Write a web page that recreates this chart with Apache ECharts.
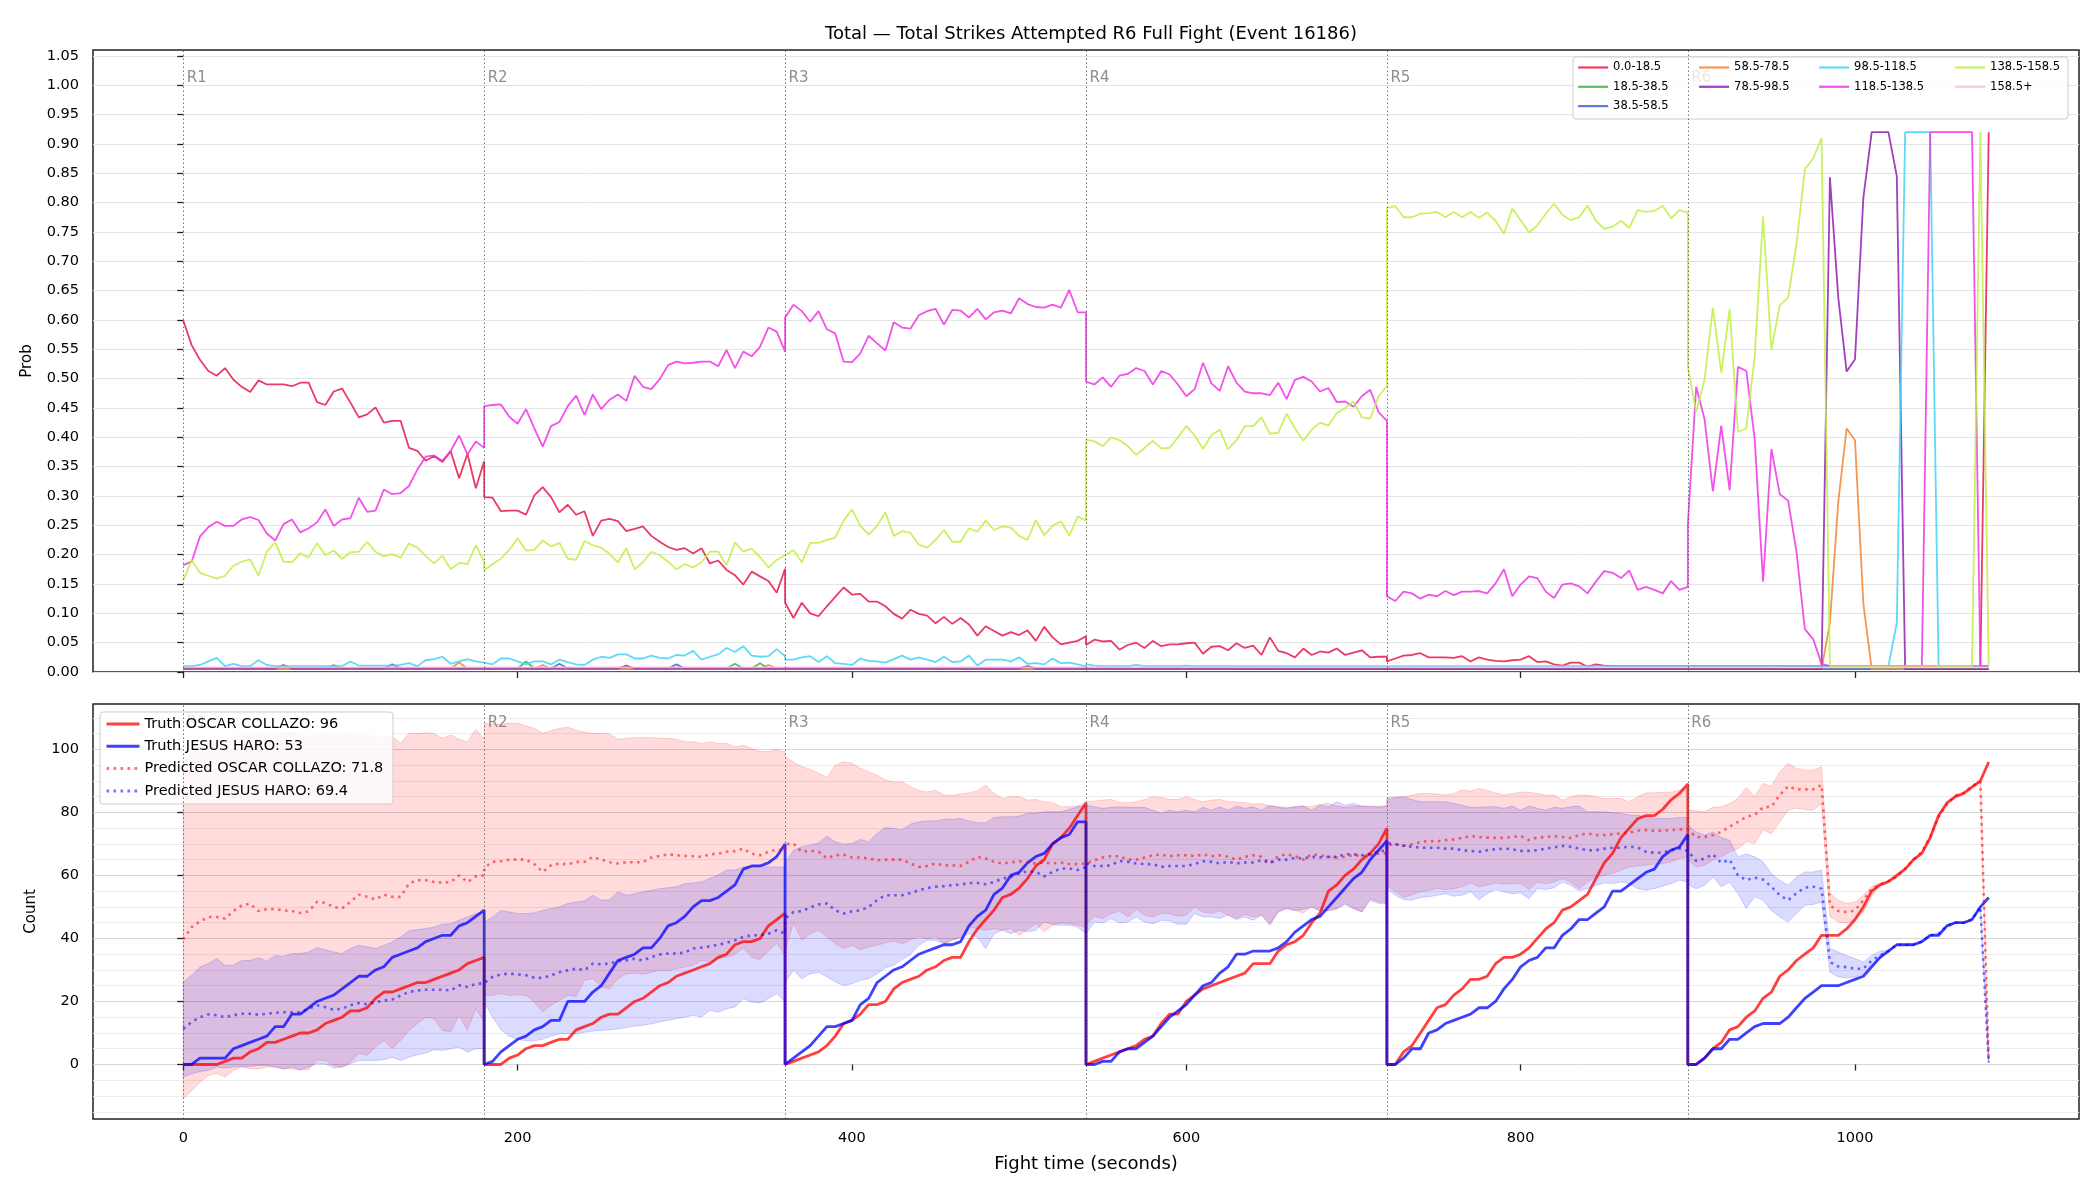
<!doctype html>
<html lang="en">
<head>
<meta charset="UTF-8">
<title>Total Strikes Attempted R6 Full Fight (Event 16186)</title>
<script src="https://cdn.jsdelivr.net/npm/echarts@6/dist/echarts.min.js"></script>
<style>
  html, body { margin: 0; padding: 0; background: #fff; }
  #chart { width: 2100px; height: 1200px; }
</style>
</head>
<body>
<div id="chart"></div>
<script>
// ---- axes / ticks ----
var roundStarts = [0, 180, 360, 540, 720, 900];
var roundNames = ['R1', 'R2', 'R3', 'R4', 'R5', 'R6'];
var stepSec = 5;
var timeTicks = [0, 200, 400, 600, 800, 1000];
var probTicks = [0, 0.05, 0.1, 0.15, 0.2, 0.25, 0.3, 0.35, 0.4, 0.45, 0.5, 0.55, 0.6, 0.65, 0.7, 0.75, 0.8, 0.85, 0.9, 0.95, 1.0, 1.05];
var countTicks = [0, 20, 40, 60, 80, 100];
var countMinorTicks = [-15, -10, -5, 5, 10, 15, 25, 30, 35, 45, 50, 55, 65, 70, 75, 85, 90, 95, 105, 110];

// ---- top panel: bin probabilities, one row per round (t = round start + 5s * k) ----
var pBin0 = [ // 0.0-18.5
  [0.599,0.557,0.532,0.513,0.505,0.518,0.498,0.486,0.477,0.497,0.490,0.490,0.490,0.487,0.493,0.493,0.460,0.455,0.478,0.483,0.459,0.434,0.439,0.451,0.425,0.428,0.428,0.382,0.377,0.360,0.368,0.358,0.376,0.330,0.372,0.313,0.359],
  [0.298,0.297,0.274,0.275,0.275,0.268,0.301,0.315,0.298,0.272,0.285,0.268,0.274,0.232,0.258,0.261,0.257,0.240,0.244,0.248,0.232,0.222,0.213,0.208,0.211,0.202,0.211,0.185,0.190,0.174,0.165,0.149,0.171,0.163,0.155,0.135,0.176],
  [0.118,0.092,0.118,0.100,0.095,0.112,0.128,0.144,0.132,0.133,0.120,0.120,0.112,0.099,0.091,0.106,0.099,0.096,0.083,0.094,0.082,0.092,0.081,0.062,0.078,0.070,0.062,0.068,0.063,0.071,0.053,0.077,0.059,0.047,0.050,0.053,0.061],
  [0.046,0.055,0.052,0.053,0.038,0.046,0.050,0.041,0.053,0.044,0.047,0.047,0.049,0.050,0.031,0.043,0.044,0.037,0.049,0.041,0.045,0.029,0.059,0.036,0.032,0.025,0.040,0.029,0.035,0.033,0.040,0.029,0.033,0.037,0.025,0.026,0.026],
  [0.018,0.023,0.028,0.029,0.032,0.025,0.025,0.025,0.024,0.027,0.018,0.025,0.021,0.019,0.018,0.020,0.021,0.027,0.017,0.018,0.013,0.011,0.016,0.016,0.009,0.013,0.011,0.010,0.010,0.010,0.010,0.010,0.010,0.010,0.010,0.010,0.010],
  [0.010,0.010,0.010,0.010,0.010,0.010,0.010,0.010,0.010,0.010,0.010,0.010,0.010,0.010,0.010,0.010,0.010,0.010,0.010,0.010,0.010,0.010,0.010,0.010,0.010,0.010,0.010,0.010,0.010,0.010,0.010,0.010,0.010,0.010,0.010,0.010,0.920]
];
var pBin6 = [ // 118.5-138.5
  [0.182,0.188,0.231,0.247,0.256,0.249,0.249,0.260,0.264,0.259,0.236,0.224,0.252,0.260,0.238,0.245,0.255,0.277,0.249,0.260,0.262,0.297,0.273,0.275,0.311,0.303,0.305,0.317,0.345,0.367,0.369,0.360,0.377,0.403,0.371,0.393,0.382],
  [0.453,0.455,0.456,0.435,0.423,0.448,0.415,0.384,0.419,0.426,0.453,0.471,0.438,0.473,0.448,0.464,0.473,0.462,0.505,0.486,0.482,0.499,0.523,0.529,0.526,0.527,0.529,0.529,0.521,0.549,0.518,0.546,0.538,0.554,0.587,0.580,0.546],
  [0.604,0.626,0.615,0.597,0.615,0.584,0.577,0.529,0.528,0.543,0.573,0.560,0.548,0.596,0.587,0.585,0.608,0.615,0.619,0.592,0.617,0.616,0.604,0.619,0.601,0.613,0.616,0.611,0.637,0.627,0.622,0.621,0.626,0.621,0.651,0.613,0.613],
  [0.495,0.490,0.502,0.486,0.505,0.508,0.518,0.513,0.490,0.513,0.507,0.490,0.470,0.482,0.527,0.492,0.479,0.521,0.493,0.478,0.475,0.475,0.472,0.493,0.465,0.498,0.503,0.495,0.478,0.484,0.460,0.461,0.452,0.470,0.481,0.443,0.428],
  [0.129,0.121,0.137,0.134,0.125,0.132,0.129,0.138,0.131,0.137,0.137,0.138,0.134,0.151,0.175,0.129,0.149,0.163,0.160,0.137,0.126,0.149,0.151,0.146,0.134,0.154,0.172,0.169,0.160,0.173,0.140,0.145,0.140,0.134,0.155,0.140,0.145],
  [0.250,0.486,0.431,0.308,0.420,0.310,0.520,0.513,0.397,0.154,0.380,0.303,0.292,0.205,0.073,0.056,0.014,0.010,0.010,0.010,0.010,0.010,0.010,0.010,0.010,0.010,0.010,0.010,0.010,0.920,0.920,0.920,0.920,0.920,0.920,0.010,0.010]
];
var pBin7 = [ // 138.5-158.5
  [0.156,0.191,0.169,0.164,0.159,0.164,0.181,0.188,0.192,0.164,0.205,0.221,0.188,0.187,0.202,0.195,0.220,0.199,0.207,0.193,0.204,0.205,0.222,0.205,0.197,0.201,0.195,0.219,0.212,0.198,0.185,0.198,0.175,0.186,0.184,0.216,0.188],
  [0.173,0.184,0.193,0.208,0.228,0.207,0.208,0.224,0.214,0.220,0.193,0.191,0.223,0.216,0.212,0.201,0.187,0.211,0.175,0.187,0.205,0.199,0.188,0.175,0.184,0.178,0.187,0.205,0.205,0.182,0.221,0.205,0.210,0.196,0.178,0.191,0.199],
  [0.199,0.208,0.187,0.220,0.220,0.225,0.229,0.258,0.277,0.249,0.234,0.249,0.272,0.232,0.240,0.237,0.217,0.212,0.225,0.242,0.222,0.222,0.245,0.239,0.258,0.242,0.248,0.246,0.232,0.225,0.259,0.233,0.249,0.257,0.232,0.265,0.258],
  [0.396,0.393,0.385,0.400,0.395,0.385,0.370,0.382,0.394,0.381,0.382,0.400,0.419,0.403,0.380,0.404,0.413,0.380,0.395,0.419,0.419,0.434,0.406,0.408,0.440,0.415,0.394,0.413,0.425,0.420,0.441,0.450,0.461,0.434,0.432,0.470,0.487],
  [0.791,0.794,0.775,0.775,0.781,0.782,0.784,0.775,0.784,0.775,0.784,0.774,0.783,0.769,0.747,0.790,0.770,0.749,0.761,0.781,0.798,0.779,0.770,0.775,0.795,0.769,0.755,0.759,0.769,0.757,0.787,0.784,0.786,0.794,0.773,0.787,0.783],
  [0.520,0.443,0.498,0.621,0.510,0.619,0.409,0.415,0.537,0.776,0.549,0.625,0.638,0.729,0.857,0.875,0.910,0.010,0.010,0.010,0.010,0.010,0.010,0.010,0.010,0.010,0.010,0.010,0.010,0.010,0.010,0.010,0.010,0.010,0.010,0.920,0.010]
];
var pBin5 = [ // 98.5-118.5
  [0.010,0.010,0.012,0.018,0.024,0.010,0.014,0.010,0.010,0.020,0.012,0.010,0.010,0.010,0.010,0.010,0.010,0.010,0.010,0.010,0.018,0.011,0.011,0.011,0.011,0.011,0.012,0.015,0.010,0.020,0.022,0.026,0.014,0.018,0.022,0.018,0.016],
  [0.015,0.013,0.023,0.023,0.018,0.013,0.018,0.018,0.013,0.021,0.017,0.013,0.012,0.021,0.026,0.024,0.030,0.030,0.023,0.023,0.028,0.024,0.023,0.029,0.028,0.036,0.021,0.026,0.030,0.041,0.034,0.044,0.028,0.026,0.027,0.039,0.027],
  [0.021,0.021,0.025,0.027,0.017,0.027,0.015,0.014,0.012,0.023,0.019,0.018,0.016,0.022,0.028,0.021,0.025,0.021,0.017,0.026,0.017,0.018,0.028,0.011,0.021,0.021,0.021,0.018,0.025,0.014,0.015,0.013,0.023,0.015,0.016,0.013,0.009],
  [0.013,0.011,0.010,0.010,0.010,0.010,0.012,0.010,0.010,0.010,0.010,0.010,0.011,0.010,0.010,0.010,0.010,0.010,0.010,0.010,0.010,0.010,0.010,0.010,0.010,0.010,0.010,0.010,0.010,0.010,0.010,0.010,0.010,0.010,0.010,0.010,0.010],
  [0.010,0.010,0.010,0.010,0.010,0.010,0.010,0.010,0.010,0.010,0.010,0.010,0.010,0.010,0.010,0.010,0.010,0.010,0.010,0.010,0.010,0.010,0.010,0.010,0.010,0.010,0.010,0.010,0.010,0.010,0.010,0.010,0.010,0.010,0.010,0.010,0.010],
  [0.010,0.010,0.010,0.010,0.010,0.010,0.010,0.010,0.010,0.010,0.010,0.010,0.010,0.010,0.010,0.010,0.010,0.010,0.010,0.010,0.010,0.010,0.010,0.010,0.010,0.084,0.920,0.920,0.920,0.920,0.010,0.010,0.010,0.010,0.010,0.010,0.010]
];
// near-zero bins, read as [time, prob]
var pBin1 = [[0,0.006],[85,0.006],[90,0.012],[95,0.006],[200,0.006],[205,0.018],[210,0.006],[325,0.006],[330,0.014],[335,0.006],[340,0.006],[345,0.015],[350,0.006],[1080,0.005]];
var pBin2 = [[0,0.006],[120,0.006],[125,0.013],[130,0.006],[220,0.006],[225,0.014],[230,0.006],[290,0.006],[295,0.013],[300,0.006],[1080,0.005]];
var pBin3 = [[0,0.006],[160,0.006],[165,0.016],[170,0.006],[210,0.006],[215,0.012],[220,0.006],[345,0.006],[350,0.012],[355,0.006],[980,0.005],[985,0.084],[990,0.29],[995,0.415],[1000,0.395],[1005,0.117],[1010,0.005],[1080,0.005]];
var pBin4 = [[0,0.006],[55,0.006],[60,0.012],[65,0.006],[260,0.006],[265,0.011],[270,0.006],[500,0.006],[505,0.010],[510,0.006],[980,0.005],[985,0.843],[990,0.638],[995,0.512],[1000,0.533],[1005,0.808],[1010,0.92],[1015,0.92],[1020,0.92],[1025,0.845],[1030,0.005],[1080,0.005]];
var pBin8 = [[0,0.008],[1080,0.008]];

// ---- bottom panel: cumulative counts per round ----
var truthRed = [
  [0,0,0,0,0,1,2,2,4,5,7,7,8,9,10,10,11,13,14,15,17,17,18,21,23,23,24,25,26,26,27,28,29,30,32,33,34],
  [0,0,0,2,3,5,6,6,7,8,8,11,12,13,15,16,16,18,20,21,23,25,26,28,29,30,31,32,34,35,38,39,39,40,44,46,48],
  [0,1,2,3,4,6,9,13,14,16,19,19,20,24,26,27,28,30,31,33,34,34,39,43,46,49,53,54,56,59,63,65,70,72,75,79,83],
  [0,1,2,3,4,5,6,8,9,13,16,16,20,22,24,25,26,27,28,29,32,32,32,36,38,39,41,45,48,55,57,60,62,65,67,70,75],
  [0,0,4,6,10,14,18,19,22,24,27,27,28,32,34,34,35,37,40,43,45,49,50,52,54,59,64,67,72,75,78,79,79,81,84,86,89],
  [0,0,2,5,7,11,12,15,17,21,23,28,30,33,35,37,41,41,41,43,46,50,55,57,58,60,62,65,67,72,79,83,85,86,88,90,96]
];
var truthBlue = [
  [0,0,2,2,2,2,5,6,7,8,9,12,12,16,16,18,20,21,22,24,26,28,28,30,31,34,35,36,37,39,40,41,41,44,45,47,49],
  [0,1,4,6,8,9,11,12,14,14,20,20,20,23,25,29,33,34,35,37,37,40,44,45,47,50,52,52,53,55,57,62,63,63,64,66,70],
  [0,2,4,6,9,12,12,13,14,19,21,26,28,30,31,33,35,36,37,38,38,39,44,47,49,54,56,60,61,64,66,67,70,72,73,77,77],
  [0,0,1,1,4,5,5,7,9,12,15,17,19,22,25,26,29,31,35,35,36,36,36,37,39,42,44,46,47,50,53,56,59,61,65,68,71],
  [0,0,2,5,5,10,11,13,14,15,16,18,18,20,24,27,31,33,34,37,37,41,43,46,46,48,50,55,55,57,59,61,62,66,68,69,73],
  [0,0,2,5,5,8,8,10,12,13,13,13,15,18,21,23,25,25,25,26,27,28,31,34,36,38,38,38,39,41,41,44,45,45,46,50,53]
];
var predRed = [
  [39.7,43.6,45.4,46.8,46.8,46.3,48.7,50.5,51,48.7,49.3,49.3,48.9,48.7,48.1,48.6,51.6,51.3,50,49.5,51.6,53.9,53.2,52.4,53.9,53.2,53.2,57.4,58.5,58.5,57.9,57.7,57.9,60,57.9,59.7,60],
  [62.4,64.3,64.5,65,65,65,63.6,61.1,63.2,63.8,63.5,64.3,64.3,65.9,65,64.2,63.8,64.2,64.2,64.2,65.7,66.2,66.7,66.4,66.2,66.1,65.9,66.7,66.9,67.5,67.7,68.5,66.9,66.4,67.5,68.2,68],
  [69.9,70.1,67.5,67.8,67.5,65.4,66.4,66.6,65.7,65.7,65.4,64.8,65,65,65,63.8,62.7,63,63.8,63.2,63.2,63,64.3,65.9,65.4,64.3,63.8,64.1,64.5,64.1,63.8,64.1,63.8,64.1,63.6,63.6,63.8],
  [64.3,64.8,65.7,66.1,66.1,65,65,65.7,66.4,66.6,66.1,66.4,66.4,66.1,66.7,66.1,66.4,65.9,65,65.9,66.4,65.9,63.8,66.1,66.7,66.1,65,66.7,66.4,65.9,65.7,65.9,66.4,66.1,66.4,66.9,67],
  [69.6,69.9,69.4,69.9,70.6,70.9,70.8,71.2,71.4,71.9,72.5,72.2,72,71.9,71.9,72.2,72.5,71.2,72,72.2,72.5,72.2,71.9,72.8,73.3,72.8,72.8,73.1,73.3,73.6,74.2,74.4,74.2,74.2,74.4,74.6,74.6],
  [74.6,72.2,72.2,72.8,73.8,75.5,77,78.6,79.2,81.6,81.8,85.5,88.3,87.3,87.3,87.3,88.7,50.5,48.7,48.4,48.9,52.1,55.8,57.1,58.2,59.5,62.2,65,67.5,72.2,78.6,82.6,85.3,86.2,88.3,89.7,0.7]
];
var predBlue = [
  [11.3,13.5,15,15.9,15.6,15,15.6,16.1,16.1,15.8,16.1,16.4,16.6,16.6,16.6,17.7,18.8,18.2,17.4,17.7,18.8,19.5,19.1,19.8,20.3,20.6,21.9,23,23.5,23.7,23.7,23.7,23.5,25.1,24.6,25.6,25.8],
  [26.2,27.8,28.6,28.8,28.6,28.3,27.5,27.5,28.3,29.3,29.9,30.4,29.9,32,31.8,32,32.8,33,33.6,33,34.1,34.9,35.2,35.2,35.5,36.8,37.1,37.5,38,38.6,39.4,40.5,41,41,41.5,42.6,41.5],
  [46.3,48.4,48.7,49.8,50.8,51.1,48.9,47.9,48.6,48.9,50,52.1,53.7,53.7,53.7,54.4,55.3,56,56.4,56.6,56.9,57.1,57.6,57.6,57.2,57.9,59,59.5,60.6,61.3,61.1,59.7,61.1,62.2,62.2,61.7,62.7],
  [63.8,63,63,63.2,64.6,64.3,63.8,63.6,63.6,62.7,63,63,63,63.6,64.5,64.3,63.8,64.3,63.8,64.1,64.1,64.8,64,65,65,65.6,65.4,65.9,65.7,65.9,65.9,66.7,66.7,66.4,66.9,67.5,68],
  [70.3,69.9,69.4,69.1,68.8,68.8,68.8,68.5,68.5,68,67.8,67.5,68,68.3,68.5,68.3,67.8,67.8,68,68.5,68.9,69.4,69.1,68.5,68,68,68.5,68.8,68.8,69.1,68.9,67.5,67.2,67.2,68,68.5,67.8],
  [67.8,64.6,65.4,66.7,64,65,60,58.5,59.3,58.7,56.4,53.7,52.1,54.4,56.1,56.4,55.8,32.5,31.1,30.9,30.4,30.4,33,34.6,36,38,38,38,39,41,41.5,44,45,45,46,50,0.7]
];
var redHi = [
  [96,99,101,102,103,103,104,104.5,104,105,104.5,104,105,105.5,104.5,104,104.5,105,104,104.5,105,104,104.5,103.5,104,104,102,105,105,105.3,105,103.5,104.6,103.2,102.4,106.4,103.2],
  [108.3,108,108,108.3,108.3,107.4,106.7,105.1,105.9,106.7,107,106.1,105.4,105.1,105.1,104.9,103.2,103.5,103.8,103.8,103.8,103.5,103.5,103.2,102.4,102.4,101.9,102.4,101.9,101.9,100.8,101.3,100.3,99.3,99.3,99.8,99.3],
  [97.8,96,94.5,93.7,92.5,91.1,95,96.1,95.6,94,92.9,91.8,90.3,89.7,89.7,88.1,86.9,86.5,87,85.5,85.5,85.8,86.2,86.9,88.7,86,84.4,85,85,83.9,84.1,83.4,83.1,81.8,81.8,82,83.4],
  [83.4,83.6,83.9,84.1,83.1,83.1,83.4,84.1,85,84.7,84.1,84.1,85,84.1,83.4,83.9,84.1,83.4,83.4,83.1,82.6,82.8,82,81.8,81.6,81.8,82,81.8,82.6,82.8,82,81.6,82,82,81.8,82,82],
  [83.9,84.7,85,85.5,86,86,85.8,85.5,86,87.1,86.7,87.6,86.9,86.2,85.5,86,86.4,86.4,86,85.5,85.5,83.9,85,85.5,85.5,85,84.4,84.4,84.4,83.4,85,86.2,86.2,86.4,86.4,87.1,87.6],
  [80.7,80.5,80.2,81.6,81.8,82.8,84.4,87.9,85,89.2,88.3,92.9,95.6,94,93.4,93.4,94.5,54.4,52.1,51.1,51.6,53.7,56.4,57.6,58.4,59.7,62.4,65.2,67.7,72.4,78.8,82.8,85.5,86.4,88.5,89.9,0.9]
];
var redLo = [
  [-10.9,-8.3,-5.6,-3.5,-2.8,-4,-1.9,-0.8,-1.4,-1.4,-0.8,-0.8,-1.4,-1.4,-1.7,-1.7,1.5,1.3,-0.3,-0.8,0.7,3.4,2.9,5.5,7.6,5,7.6,10.8,12.9,15,14.5,10.8,10.3,15.6,10.8,17.7,13.5],
  [21.9,21.9,22.5,21.9,22.1,21.9,19.8,16.6,18.8,20.3,21.9,21.6,26.7,27.2,24.6,24,27.2,28.8,29,28.6,29.3,29.9,29.7,30.4,30.9,31.5,33,32.5,33.6,34,35,37,34,33.3,36,38.5,34.6],
  [36,44.9,39.4,41.5,42.6,40.5,38.3,36.8,37.8,36.4,37.3,37.8,38.6,39.2,38.3,39.6,40.5,39.9,40.5,38.3,39.4,40.3,43.6,43.1,42.6,43.1,42.6,43.1,41,42.8,44.7,42.1,44.2,44.9,44.7,44.2,43.6],
  [44.5,47,46.3,47.9,48.7,46.8,49.2,47.4,46.8,47.9,47.9,47,47.4,50,48.4,47.9,48.7,47.4,46.3,47.7,46.8,47.4,44.7,48.4,49.5,48.9,48.1,50,48.7,48.7,49.2,51.3,49.5,48.4,52.6,51.6,51.6],
  [56.9,54.8,53,53.9,54.8,55.3,55.8,55.5,55.8,56.4,57.6,56.4,56.9,57.6,57.2,57.4,57.4,55.5,57.9,57.4,57.9,59,57.9,55.8,57.9,59.5,60.1,60.6,61.7,62.7,63,63.2,63.6,63.8,64.3,65.4,65.9],
  [65,62.7,63.2,64.8,65.9,67.5,68.5,70.7,70.2,74.4,73.3,77,80.7,81.3,80.9,80.7,82.8,47,45.2,44.9,45.8,48.4,53.2,56.9,58,59.3,62,64.8,67.3,72,78.4,82.4,85.1,86,88.1,89.5,0.5]
];
var blueHi = [
  [26.2,28.3,30.9,32,33.6,31.5,31.5,33,33,33.9,32.8,34.6,34.3,35.2,35.2,35.7,37.1,36.4,35.7,35.2,36.8,37.8,37.3,36.8,37.8,38.9,40.5,42.4,42.8,43.1,43.6,44.5,44.7,45.8,46.8,47.9,48.4],
  [45.2,46.8,48.9,48.4,47.9,47.9,48.1,48.9,49.5,50,51.1,51.6,51.9,53.7,52.1,52.3,54.8,53.7,54.2,54.8,55.3,55.8,56.1,56.4,57.4,57.6,58,59,60.1,61.7,61.7,62.7,62.7,62.9,62.7,62.7,62.7],
  [64,68,69.1,69.6,70.3,72.5,70.7,69.9,70.1,71.4,70.7,73.3,75.2,74.9,74.4,76.3,77,77.3,77.3,77.8,77.8,78.1,77.3,76.7,76.7,78.4,78.6,78.6,78.8,79.7,79.7,80.2,80.2,80.2,80.9,81.8,82.3],
  [82.3,81.8,81.3,81.6,81.8,81.6,81.6,81.6,80.7,79.7,80.7,80.2,80.7,80.2,81.6,80.7,81.8,80.7,82,81.3,81.8,80.7,82.3,81.6,81.3,81.8,82,80.7,82.3,81.8,83.4,82.3,82.8,82,82,81.6,82],
  [84.7,84.9,84.9,84.1,83.4,83.4,83.4,83.4,82.8,82.3,81.6,81.6,81.8,81.8,81.3,82,80.7,82,81.3,80.7,81.6,81.3,81.8,82,80.2,80.2,80.2,79.9,79.7,79.1,79.1,78.6,78.1,78.1,78.1,78.4,78.4],
  [76,73.8,72.8,73.8,72,71.2,65.9,66.9,65.9,64.3,60.6,58.5,56.9,59.5,61.1,61.1,61.7,36.8,35.7,34.6,33.6,32.5,34.6,36,36.2,38.2,38.2,38.2,39.2,41.2,41.7,44.2,45.2,45.2,46.2,50.2,0.9]
];
var blueLo = [
  [-4,-3,-2.2,-1.9,-0.8,-1.1,-0.8,-0.6,-0.6,-0.3,-0.3,-0.8,-1.4,-0.8,-1.7,-0.8,0.4,0.2,-1.1,-0.8,0.2,1.3,1.3,1.3,1.5,2.3,1.3,2.3,3.1,3.6,4.7,4.4,5,5.5,3.9,5,5],
  [19.8,15,11,9,8,7.5,7.5,8,9,9.7,9.7,9.7,10.2,10.6,10.8,11,11.3,11.7,12.2,12.4,12.9,13.5,14,14.5,15,15.6,15,17.2,16.6,17.7,18.2,20.9,19.8,19.5,20.9,22.5,19.8],
  [26,29.9,27.2,28.8,29.3,27.8,26.2,25.1,25.6,26.7,27.2,28.8,30.6,31.5,33.3,34.9,37.8,39.4,39.4,38.3,39.6,40.3,41.5,40.3,36.8,41.5,42.6,41.5,42.6,42.1,42.6,45.2,44.5,44.2,44.2,43.6,41.5],
  [41.5,45.2,44.9,46.3,44.9,45.2,46.8,45.2,44.7,45.8,45.6,44.5,44.5,47.9,46.8,46.8,46.3,47.4,46,46.8,45.8,47.4,44.2,48.4,49.5,48.9,49.2,50,48.7,48.9,49.5,50.8,49.5,48.4,52.1,51.1,51.1],
  [55.8,53.7,52.3,52.1,53,53.2,53.7,54.2,53.4,53.7,54.8,52.3,54.2,55.5,54.8,54.2,54.4,52.6,55.8,55.5,56.1,57.9,56.9,55.1,55.8,56.9,57.6,57.4,57.9,57.4,55.8,55.3,55.8,56.6,57.4,58.5,57.9],
  [57,55.8,56.9,59.5,56.4,57.9,54.2,49.5,53.2,52.1,48.9,46.8,45.2,47.9,50.5,50.8,51.6,29.3,27.8,27.5,27.8,28.8,31.5,33.6,35.8,37.8,37.8,37.8,38.8,40.8,41.3,43.8,44.8,44.8,45.8,49.8,0.5]
];

// rows of per-round samples -> [time, value] points
function toPoints(rounds) {
  var out = [];
  rounds.forEach(function (vals, r) {
    vals.forEach(function (v, k) { out.push([roundStarts[r] + k * stepSec, v]); });
  });
  return out;
}

var chart = echarts.init(document.getElementById('chart'));

function probLine(name, data, color, extra) {
  return Object.assign({
    name: name, type: 'line', xAxisIndex: 0, yAxisIndex: 0, data: data,
    symbol: 'none', silent: true,
    lineStyle: { width: 1.8, color: color }, itemStyle: { color: color }
  }, extra || {});
}
function band(hi, lo, fill, stroke) {
  var hiPts = toPoints(hi), loPts = toPoints(lo).reverse();
  return {
    type: 'custom', xAxisIndex: 1, yAxisIndex: 1, silent: true, data: [[0, 0]],
    renderItem: function (params, api) {
      var pts = hiPts.concat(loPts).map(function (p) { return api.coord(p); });
      return { type: 'polygon', shape: { points: pts }, style: { fill: fill, stroke: stroke, lineWidth: 1 } };
    }
  };
}
function roundMarks() {
  return {
    silent: true, symbol: 'none', animation: false,
    label: { show: false },
    lineStyle: { type: [1.5, 2.5], color: 'rgba(70,70,70,0.75)', width: 1 },
    data: roundStarts.map(function (t) { return { xAxis: t }; })
  };
}
function roundLabels(xi, yi, yVal) {
  return {
    type: 'scatter', xAxisIndex: xi, yAxisIndex: yi, silent: true, symbolSize: 1,
    itemStyle: { color: 'rgba(0,0,0,0)' },
    label: { show: true, position: 'right', distance: 3, formatter: '{b}', color: '#707070', fontSize: 15 },
    data: roundStarts.map(function (t, i) { return { name: roundNames[i], value: [t, yVal] }; })
  };
}

var binNames = ['0.0-18.5', '18.5-38.5', '38.5-58.5', '58.5-78.5', '78.5-98.5', '98.5-118.5', '118.5-138.5', '138.5-158.5', '158.5+'];
var binColors = ['rgba(230,25,75,0.85)', 'rgba(60,180,75,0.85)', 'rgba(67,99,216,0.85)', 'rgba(245,130,49,0.85)',
  'rgba(145,30,180,0.85)', 'rgba(66,212,244,0.85)', 'rgba(240,50,230,0.85)', 'rgba(191,239,69,0.85)', 'rgba(250,190,212,0.85)'];
var binData = [toPoints(pBin0), pBin1, pBin2, pBin3, pBin4, toPoints(pBin5), toPoints(pBin6), toPoints(pBin7), pBin8];

var series = binData.map(function (d, i) {
  return probLine(binNames[i], d, binColors[i], i === 0 ? { markLine: roundMarks() } : null);
});
series.push(roundLabels(0, 0, 1.012));

var truthRedName = 'Truth OSCAR COLLAZO: 96';
var truthBlueName = 'Truth JESUS HARO: 53';
var predRedName = 'Predicted OSCAR COLLAZO: 71.8';
var predBlueName = 'Predicted JESUS HARO: 69.4';

series.push(band(redHi, redLo, 'rgba(255,0,0,0.14)', 'rgba(255,0,0,0.16)'));
series.push(band(blueHi, blueLo, 'rgba(0,0,255,0.14)', 'rgba(0,0,255,0.16)'));
series.push({
  name: truthRedName, type: 'line', xAxisIndex: 1, yAxisIndex: 1, data: toPoints(truthRed),
  symbol: 'none', silent: true, lineStyle: { width: 2.8, color: 'rgba(255,0,0,0.75)' },
  itemStyle: { color: 'rgba(255,0,0,0.75)' }, markLine: roundMarks()
});
series.push({
  name: truthBlueName, type: 'line', xAxisIndex: 1, yAxisIndex: 1, data: toPoints(truthBlue),
  symbol: 'none', silent: true, lineStyle: { width: 2.8, color: 'rgba(0,0,255,0.75)' },
  itemStyle: { color: 'rgba(0,0,255,0.75)' }
});
series.push({
  name: predRedName, type: 'line', xAxisIndex: 1, yAxisIndex: 1, data: toPoints(predRed),
  symbol: 'none', silent: true, lineStyle: { width: 2.6, type: [2.6, 4.4], color: 'rgba(255,0,0,0.55)' },
  itemStyle: { color: 'rgba(255,0,0,0.55)' }
});
series.push({
  name: predBlueName, type: 'line', xAxisIndex: 1, yAxisIndex: 1, data: toPoints(predBlue),
  symbol: 'none', silent: true, lineStyle: { width: 2.6, type: [2.6, 4.4], color: 'rgba(0,0,255,0.55)' },
  itemStyle: { color: 'rgba(0,0,255,0.55)' }
});
series.push(roundLabels(1, 1, 108.3));

var axisFont = { color: '#000', fontSize: 14.5 };
// legend handles are plain line segments: hide the symbol ECharts adds to line icons
var noMarker = { opacity: 0, borderWidth: 0 };
function topLegend(left, names) {
  return {
    orient: 'vertical', left: left, top: 61, padding: 0, itemGap: 6.3,
    itemWidth: 30, itemHeight: 12, selectedMode: false, itemStyle: noMarker,
    lineStyle: { width: 2.2 },
    textStyle: { fontSize: 11.5, lineHeight: 13, color: '#000' },
    data: names
  };
}

var option = {
  animation: false,
  textStyle: { fontFamily: 'DejaVu Sans' },
  title: {
    text: 'Total \u2014 Total Strikes Attempted R6 Full Fight (Event 16186)',
    left: 1086, top: 20, textAlign: 'center',
    textStyle: { fontSize: 18, fontWeight: 'normal', color: '#000' }
  },
  grid: [
    { left: 93, right: 21, top: 50, height: 622, show: true, borderColor: '#222', borderWidth: 1.5, backgroundColor: 'transparent' },
    { left: 93, right: 21, top: 704, height: 415, show: true, borderColor: '#222', borderWidth: 1.5, backgroundColor: 'transparent' }
  ],
  legend: [
    topLegend(1577, binNames.slice(0, 3)),
    topLegend(1698, binNames.slice(3, 5)),
    topLegend(1818, binNames.slice(5, 7)),
    topLegend(1954, binNames.slice(7, 9)),
    {
      orient: 'vertical', left: 105, top: 716, padding: 0, itemGap: 6.3,
      itemWidth: 33, itemHeight: 14, selectedMode: false, itemStyle: noMarker,
      lineStyle: { width: 3 },
      textStyle: { fontSize: 14.5, lineHeight: 16, color: '#000' },
      data: [truthRedName, truthBlueName, predRedName, predBlueName]
    }
  ],
  graphic: [
    { type: 'rect', z: 3, shape: { x: 1573, y: 57, width: 495, height: 62, r: 3 },
      style: { fill: 'rgba(255,255,255,0.8)', stroke: '#cccccc', lineWidth: 1 } },
    { type: 'rect', z: 3, shape: { x: 100, y: 712, width: 293, height: 92, r: 3 },
      style: { fill: 'rgba(255,255,255,0.8)', stroke: '#cccccc', lineWidth: 1 } }
  ],
  xAxis: [
    {
      type: 'value', gridIndex: 0, min: -54, max: 1134,
      axisLine: { show: false },
      axisTick: { show: true, customValues: timeTicks, length: 6, lineStyle: { color: '#222', width: 1.3 } },
      axisLabel: { show: false, customValues: timeTicks },
      splitLine: { show: false }
    },
    {
      type: 'value', gridIndex: 1, min: -54, max: 1134,
      axisLine: { show: false },
      axisTick: { show: true, customValues: timeTicks, length: 6, lineStyle: { color: '#222', width: 1.3 } },
      axisLabel: Object.assign({ customValues: timeTicks, margin: 12, formatter: function (v) { return String(v); } }, axisFont),
      splitLine: { show: false },
      name: 'Fight time (seconds)', nameLocation: 'middle', nameGap: 36,
      nameTextStyle: { fontSize: 18, color: '#000' }
    }
  ],
  yAxis: [
    {
      type: 'value', gridIndex: 0, min: 0, max: 1.06,
      axisLine: { show: false },
      axisTick: { show: true, customValues: probTicks, length: 6, lineStyle: { color: '#222', width: 1.3 } },
      axisLabel: Object.assign({ customValues: probTicks, margin: 14, formatter: function (v) { return v.toFixed(2); } }, axisFont),
      splitLine: { show: true, lineStyle: { color: '#e4e4e4', width: 1 } },
      name: 'Prob', nameLocation: 'middle', nameGap: 58,
      nameTextStyle: { fontSize: 15, color: '#000' }
    },
    {
      type: 'value', gridIndex: 1, min: -17.3, max: 114.4,
      axisLine: { show: false },
      axisTick: { show: true, customValues: countTicks, length: 6, lineStyle: { color: '#222', width: 1.3 } },
      axisLabel: Object.assign({ customValues: countTicks, margin: 14 }, axisFont),
      splitLine: { show: true, lineStyle: { color: '#d6d6d6', width: 1 } },
      name: 'Count', nameLocation: 'middle', nameGap: 54,
      nameTextStyle: { fontSize: 15, color: '#000' }
    },
    {
      type: 'value', gridIndex: 1, min: -17.3, max: 114.4,
      axisLine: { show: false },
      axisTick: { show: false, customValues: countMinorTicks },
      axisLabel: { show: false, customValues: countMinorTicks },
      splitLine: { show: true, lineStyle: { color: '#ececec', width: 1 } }
    }
  ],
  series: series
};

chart.setOption(option);
</script>
</body>
</html>
